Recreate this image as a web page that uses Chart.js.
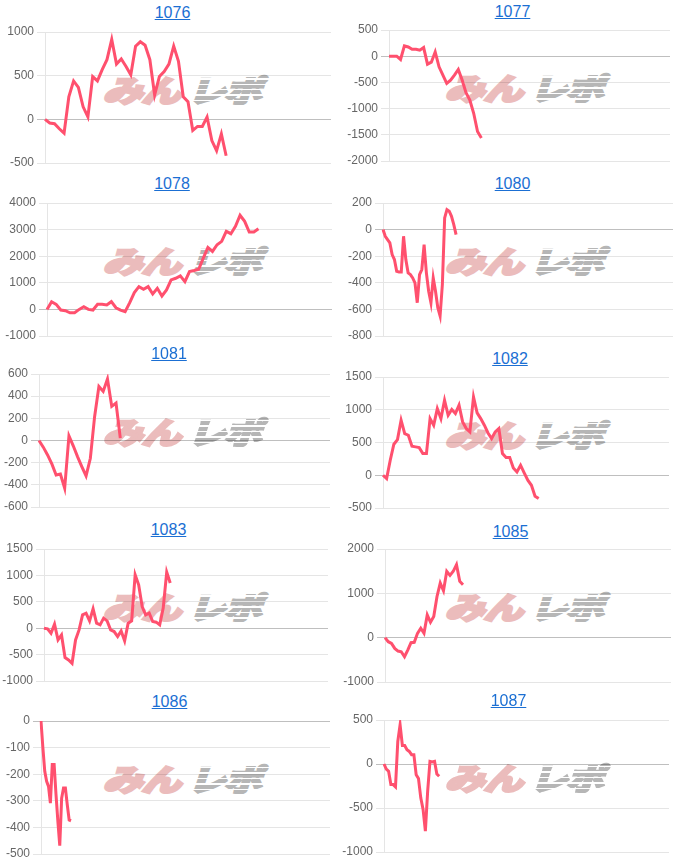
<!DOCTYPE html>
<html><head><meta charset="utf-8">
<script src="https://cdn.jsdelivr.net/npm/chart.js@4.4.1/dist/chart.umd.min.js"></script>
<style>
html,body{margin:0;padding:0;background:#fff;}
body{width:677px;height:862px;overflow:hidden;position:relative;font-family:"Liberation Sans",Arial,sans-serif;}
.ttl{position:absolute;font-size:16px;line-height:18px;color:#1b6fd3;text-decoration:underline;transform:translateX(-50%);white-space:nowrap;}
.wm{position:absolute;width:165px;height:30px;white-space:nowrap;font-family:"Noto Sans CJK JP",sans-serif;font-weight:900;font-size:30px;line-height:30px;}
.wm span{position:absolute;top:0;display:block;letter-spacing:-1px;transform-origin:left center;}
.wm .a{left:3px;color:#ebbcbc;-webkit-text-stroke:2.4px #ebbcbc;transform:skewX(-18deg) scaleX(1.33);}
.wm .b{left:88px;color:#b6b6b6;-webkit-text-stroke:2.2px #b6b6b6;transform:skewX(-18deg) scaleX(1.25);}
.wm .st{position:absolute;left:86px;top:0;width:82px;height:30px;background:repeating-linear-gradient(to bottom,rgba(255,255,255,0) 0 4px,#fff 4px 5.5px);}
canvas{position:absolute;}
</style>
</head><body>
<script>
// ---- data ----
const titles = ['1076','1077','1078','1080','1081','1082','1083','1085','1086','1087'];
const s1076 = [0,-42,-50,-108,-158,259,440,367,143,27,490,440,568,683,915,633,691,606,510,838,888,849,683,278,490,548,633,838,664,259,201,-127,-81,-81,27,-243,-359,-166,-417];
const s1077 = [0,0,0,-63,196,177,133,133,114,165,-152,-114,82,-203,-361,-519,-456,-361,-253,-456,-696,-836,-1089,-1437,-1563];
const s1078 = [0,290,189,-25,-50,-126,-126,0,101,0,-25,189,189,164,290,63,-25,-88,252,630,856,756,856,579,793,504,730,1108,1171,1259,1045,1423,1461,1511,1927,2330,2179,2431,2557,2935,2846,3123,3539,3312,2909,2909,3035];
const s1080 = [0,-50,-75,-100,-188,-225,-313,-318,-318,-50,-225,-325,-338,-363,-400,-550,-338,-300,-113,-325,-463,-550,-363,-463,-588,-650,-413,88,150,138,100,38,-38];
const s1081 = [0,-60,-130,-211,-311,-302,-431,42,-48,-145,-235,-320,-160,217,488,443,555,308,338,21];
const s1082 = [0,-51,229,473,545,840,636,611,443,433,422,331,331,865,764,1018,865,1145,916,1003,942,1069,814,713,662,1196,952,865,764,646,560,662,713,331,270,270,112,51,153,36,-76,-153,-321,-356];
const s1083 = [0,-13,-95,76,-222,-127,-557,-601,-665,-222,-32,253,285,139,367,95,63,190,139,-32,-63,-158,-51,-241,95,139,1013,823,411,253,285,127,114,63,380,1063,855];
const s1085 = [0,-91,-129,-242,-302,-318,-431,-280,-113,-106,98,212,98,514,348,476,930,1232,1058,1497,1406,1497,1648,1270,1194];
const s1086 = [0,-100,-189,-227,-246,-309,-164,-164,-277,-378,-469,-290,-252,-252,-315,-372,-375];
const s1087 = [0,-57,-83,-234,-234,-260,256,445,211,211,162,143,106,106,-121,-166,-385,-516,-762,-309,30,23,30,-113,-140];
const series = [s1076,s1077,s1078,s1080,s1081,s1082,s1083,s1085,s1086,s1087];
const xCounts = [61,74,63,128,69,80,82,89,155,125];
const yMin = [-500,-2000,-1000,-800,-600,-500,-1000,-1000,-500,-1000];
const yMax = [1000,500,4000,200,600,1500,1500,2000,0,500];
const yStep = [500,500,1000,200,200,500,500,1000,100,500];

// ---- layout (px) ----
const layout = [
  {pl:0,   ax:45,  r:331, t:32,  b:163, tx:172.5, ty:7},
  {pl:338, ax:389, r:670, t:30,  b:161, tx:512.5, ty:6},
  {pl:0,   ax:47,  r:332, t:203, b:336, tx:172,   ty:178},
  {pl:338, ax:383, r:673, t:203, b:336, tx:512.5, ty:178},
  {pl:0,   ax:39,  r:330, t:374, b:507, tx:169,   ty:348},
  {pl:338, ax:383, r:669, t:377, b:508, tx:510,   ty:353},
  {pl:0,   ax:44,  r:328, t:549, b:681, tx:168.5, ty:524},
  {pl:338, ax:385, r:671, t:549, b:682, tx:510.5, ty:526},
  {pl:0,   ax:41,  r:330, t:721, b:854, tx:169.5, ty:696},
  {pl:338, ax:384, r:669, t:720, b:852, tx:508.5, ty:695}
];
const PAD = 12;
const LINE = 'rgb(255, 80, 110)';

series.forEach((data, i) => {
  const L = layout[i];
  const t = document.createElement('a');
  t.className = 'ttl'; t.href = '#'; t.textContent = titles[i];
  t.style.left = L.tx + 'px'; t.style.top = (L.ty - 3) + 'px';
  document.body.appendChild(t);
  const wm = document.createElement('div');
  wm.className = 'wm';
  wm.style.left = (L.pl === 0 ? 104 : 446) + 'px';
  wm.style.top = (L.t + 42) + 'px';
  wm.innerHTML = '<span class="a">みん</span><span class="b">レポ</span><div class="st"></div>';
  document.body.appendChild(wm);
  const c = document.createElement('canvas');
  const w = L.r - L.pl, h = L.b - L.t + 2 * PAD;
  c.width = w; c.height = h;
  c.style.left = L.pl + 'px'; c.style.top = (L.t - PAD) + 'px';
  c.style.width = w + 'px'; c.style.height = h + 'px';
  document.body.appendChild(c);
  const labels = Array.from({length: xCounts[i]}, (_, k) => String(k + 1));
  const axisW = L.ax - L.pl;
  new Chart(c, {
    type: 'line',
    data: {labels, datasets: [{data, borderColor: LINE, backgroundColor: LINE, borderWidth: 3, pointRadius: 0, pointHoverRadius: 0, fill: false, tension: 0}]},
    options: {
      responsive: false, animation: false, devicePixelRatio: 1,
      layout: {padding: {top: PAD, bottom: PAD, left: 0, right: 0}},
      plugins: {legend: {display: false}, tooltip: {enabled: false}, title: {display: false}},
      scales: {
        x: {display: false},
        y: {
          min: yMin[i], max: yMax[i],
          afterFit: s => { s.width = axisW; },
          ticks: {stepSize: yStep[i], color: '#666', padding: 3, callback: v => String(v), font: {size: 12, family: '"Liberation Sans", Arial, sans-serif'}},
          grid: {color: ctx => (ctx.tick && ctx.tick.value === 0) ? 'rgba(0,0,0,0.25)' : 'rgba(0,0,0,0.1)', tickLength: 8},
          border: {color: 'rgba(0,0,0,0.1)'}
        }
      }
    }
  });
});
</script>
</body></html>
